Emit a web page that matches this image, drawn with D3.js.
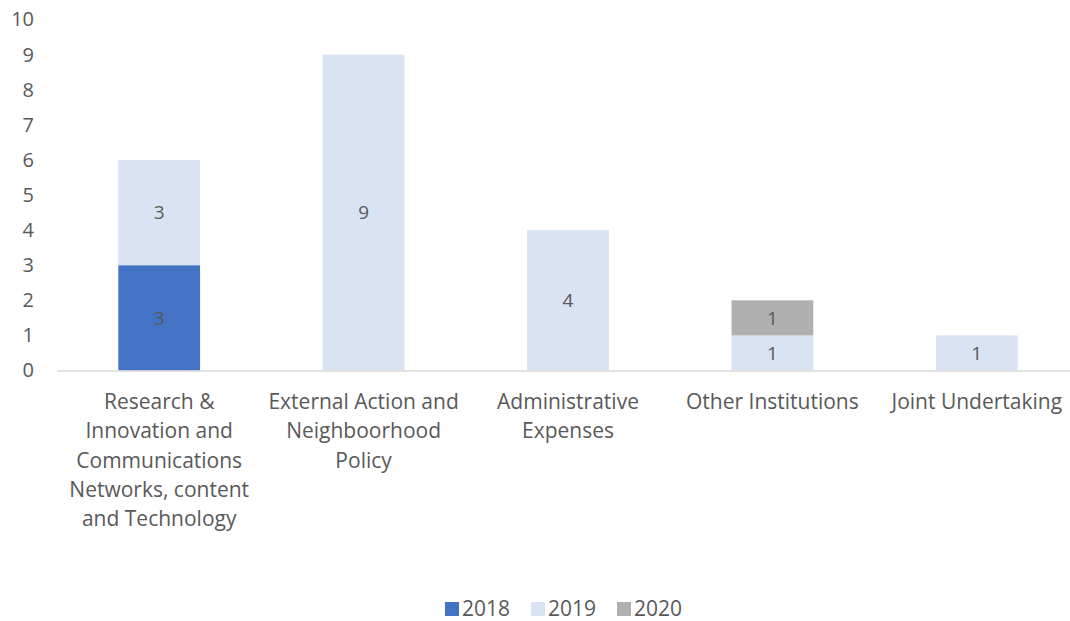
<!DOCTYPE html>
<html><head><meta charset="utf-8">
<script src="https://cdn.jsdelivr.net/npm/d3@7"></script>
<style>body{margin:0;background:#fff;} text{font-family:"Open Sans","Noto Sans",sans-serif;}</style>
</head><body>
<svg id="c" width="1070" height="621"></svg>
<script>
const categories = ["Research & Innovation and Communications Networks, content and Technology","External Action and Neighboorhood Policy","Administrative Expenses","Other Institutions","Joint Undertaking"];
const categoryLines = [["Research &","Innovation and","Communications","Networks, content","and Technology"],["External Action and","Neighboorhood","Policy"],["Administrative","Expenses"],["Other Institutions"],["Joint Undertaking"]];
const series = ["2018","2019","2020"];
const v2018 = [3,0,0,0,0];
const v2019 = [3,9,4,1,1];
const v2020 = [0,0,0,1,0];
const colors = ["#4472C4","#DAE3F3","#B0B0B0"];
const yTicks = [0,1,2,3,4,5,6,7,8,9,10];

const svg = d3.select("#c");
const x = d3.scaleBand().domain(categories).range([57,1079]).paddingInner(0.6).paddingOuter(0.3);
const y = d3.scaleLinear().domain([0,10]).range([370.5,19.5]);

const rows = categories.map((c,i)=>({cat:c,"2018":v2018[i],"2019":v2019[i],"2020":v2020[i]}));
const stacked = d3.stack().keys(series)(rows);

stacked.forEach((s,si)=>{
  svg.append("g").selectAll("rect").data(s.filter(d=>d[1]-d[0]>0)).join("rect")
    .attr("x",d=>x(d.data.cat)).attr("width",x.bandwidth())
    .attr("y",d=>y(d[1])).attr("height",d=>y(d[0])-y(d[1]))
    .attr("fill",colors[si]);
  svg.append("g").selectAll("text").data(s.filter(d=>d[1]-d[0]>0)).join("text")
    .attr("x",d=>x(d.data.cat)+x.bandwidth()/2).attr("y",d=>(y(d[0])+y(d[1]))/2)
    .attr("dy","0.36em").attr("text-anchor","middle")
    .attr("font-size",19).attr("fill","#595959")
    .text(d=>d[1]-d[0]);
});

svg.append("line").attr("x1",57).attr("x2",1079).attr("y1",y(0)+0.5).attr("y2",y(0)+0.5)
  .attr("stroke","#D9D9D9").attr("stroke-width",1.5);

const yAxis = d3.axisLeft(y).tickValues(yTicks).tickSize(0).tickPadding(0);
const ga = svg.append("g").attr("transform","translate(34,0)").call(yAxis);
ga.select(".domain").remove();
ga.selectAll("text").attr("font-size",20).attr("fill","#595959").attr("font-family","'Open Sans','Noto Sans',sans-serif").attr("text-anchor","end");

categories.forEach((c,i)=>{
  const t = svg.append("text").attr("text-anchor","middle").attr("font-size",21).attr("fill","#595959");
  categoryLines[i].forEach((ln,j)=>{
    t.append("tspan").attr("x",x(c)+x.bandwidth()/2).attr("y",409+j*29.3).text(ln);
  });
});

const legX = [445,531,617];
series.forEach((s,i)=>{
  svg.append("rect").attr("x",legX[i]).attr("y",602).attr("width",14).attr("height",14).attr("fill",colors[i]);
  svg.append("text").attr("x",legX[i]+17).attr("y",616).attr("font-size",21).attr("fill","#595959").text(s);
});
</script>
</body></html>
